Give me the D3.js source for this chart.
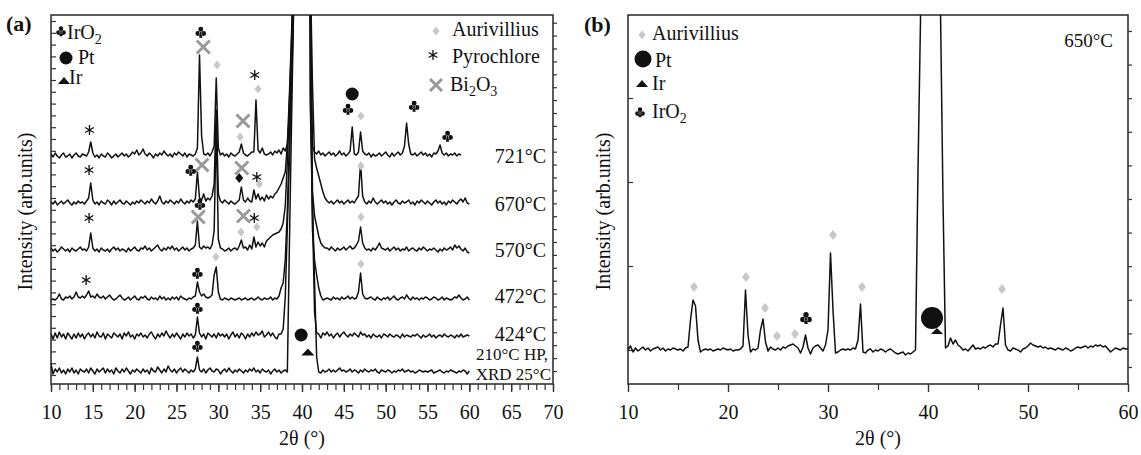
<!DOCTYPE html>
<html><head><meta charset="utf-8">
<script src="https://cdn.jsdelivr.net/npm/d3@7"></script>
<style>
body{margin:0;background:#fff;}
</style></head><body>
<svg id="c" width="1141" height="455"></svg>
<script>
// ---------------- DATA ----------------
// sampling grid of the diffractograms (2θ, degrees)
const twoTheta = d3.range(201).map(i => 10 + i * 0.25);

// panel (a): intensities above each trace's own baseline (arb. units), 999 = off scale
const trace721 = [
 2,-1,3,0, -2,1,3,-1, 0,2,-2,1, 3,0,-1,2, 1,0,4,14, 3,-1,1,-2, 2,0,-1,3, 1,-2,0,2, -1,1,3,0, 2,-1,1,4,
 2,6,1,3, 7,2,0,3, 1,-2,2,0, 3,1,5,2, 0,2,-1,3, 1,4,2,0, 3,-1,2,1, 0,2,8,101, 20,2,1,3, 0,4,10,78,
 8,1,3,0, 2,-1,3,1, 0,2,4,12, 3,1,0,2, 4,4,56,6, 3,8,2,1, 2,4,1,5, 3,6,2,8, 5,12,40,100, 160,999,999,999,
 999,999,999,999, 150,10,4,2, 5,1,3,0, 2,4,1,3, 0,2,5,1, 3,0,2,5, 29,2,1,4, 24,5,2,1, 3,-1,2,0, 1,3,0,2,
 4,1,-1,3, 0,2,4,1, 3,10,33,12, 2,1,3,0, 2,4,1,3, 0,2,-1,3, 2,5,11,3, 1,3,0,2, 1,3,0,2, 1];
const trace670 = [
 2,0,3,-1, 1,3,0,2, 4,1,-1,2, 0,3,1,2, 0,3,6,21, 4,0,2,-1, 3,1,0,4, 2,-1,3,0, 2,4,1,0, 3,1,-1,2,
 0,3,1,4, 2,0,3,1, 5,2,0,3, 8,2,0,3, 1,4,2,0, 3,1,5,2, 0,3,1,4, 2,5,32,6, 4,10,3,6, 4,8,20,94,
 10,3,1,4, 2,0,3,1, 0,2,4,17, 4,2,6,3, 2,14,5,10, 4,7,3,9, 5,8,6,10, 12,16,20,26, 32,60,110,170, 240,999,999,999,
 999,999,999,999, 230,120,45,36, 28,20,12,6, 3,1,3,0, 2,4,1,3, 0,2,4,1, 3,1,5,8, 41,8,2,0, 3,1,6,2, 0,2,4,1,
 3,0,2,-1, 2,4,1,0, 3,1,2,4, 0,2,-1,3, 1,4,2,0, 3,1,-1,2, 4,1,3,0, 2,-1,3,1, 4,2,0,3, 5,2,6,1, 0];
const trace570 = [
 3,0,2,-1, 1,4,2,0, 2,-1,3,1, 0,2,4,1, 2,0,4,18, 3,0,2,-1, 3,1,0,2, -1,2,4,1, 3,0,2,1, -1,3,0,2,
 4,1,0,3, 2,5,1,3, 0,2,4,6, 2,0,3,1, 4,2,5,1, 3,0,2,4, 1,3,0,2, 3,6,30,4, 2,5,3,4, 2,6,20,126,
 12,3,2,0, 1,3,0,2, 3,1,5,11, 3,4,1,6, 2,14,4,9, 5,8,4,10, 12,14,16,17, 18,19,22,28, 45,90,150,210, 280,999,999,999,
 999,999,999,999, 250,60,35,25, 15,8,5,3, 3,1,4,2, 0,3,1,2, 4,1,3,5, 2,3,6,10, 24,8,3,1, 2,0,3,1, 4,8,3,2,
 1,3,0,2, 4,1,3,0, 2,1,4,0, 2,3,1,0, 3,1,4,2, 0,2,1,3, 1,-1,2,0, 3,1,2,4, 1,6,3,5, 2,0,3,-1, -2];
const trace472 = [
 0,1,0,2, 6,1,0,3, 2,4,1,3, 8,3,2,4, 2,5,9,3, 4,2,6,3, 2,4,1,3, 5,2,0,1, 3,5,2,0, 1,3,0,2,
 4,1,0,3, 2,4,1,0, 3,1,2,0, 4,1,3,0, 2,0,3,1, 3,0,4,2, 1,0,2,1, 3,4,18,8, 4,6,3,2, 3,5,25,33,
 8,1,0,2, 1,0,2,1, 0,1,2,0, 1,2,0,1, 2,0,1,3, 1,0,2,1, 1,3,0,2, 1,4,12,17, 40,90,160,230, 300,999,999,999,
 999,999,999,999, 280,70,40,25, 12,4,0,1, 2,1,0,3, 1,2,0,3, 1,2,4,1, 3,1,2,8, 27,6,2,1, 2,3,1,0, 3,1,0,2,
 1,3,0,2, 4,1,0,2, 3,1,5,2, 0,3,1,2, 0,2,1,3, 2,0,1,3, 2,0,1,3, 0,2,1,0, 1,3,2,5, 2,0,1,3, 0];
const trace424 = [
 3,-2,4,-1, 5,0,3,-2, 4,1,-2,3, -1,4,0,3, -2,2,4,0, 3,-1,5,1, 0,4,-2,3, 1,-1,4,2, 0,3,-2,4, 1,5,0,2,
 -2,3,1,4, 0,2,-1,3, 5,1,-2,3, 0,4,1,6, 2,-1,3,0, 4,1,-2,3, 0,4,1,3, -1,2,20,4, 0,3,-2,4, 2,0,3,-1,
 4,1,3,0, 3,-2,2,5, 0,3,-1,4, 2,-2,3,0, 4,1,5,2, 3,6,0,2, 5,1,4,0, -2,3,3,8, 40,110,180,250, 330,999,999,999,
 999,999,999,999, 230,125,25,4, 3,-1,4,2, 5,1,3,-1, 2,4,0,3, 5,2,0,3, 1,4,2,0, 5,2,3,0, 2,-1,3,1, 0,2,-1,3,
 2,0,3,1, 0,2,1,-1, 3,0,2,1, 0,2,1,3, 1,-1,2,0, 1,3,0,2, -1,1,2,0, 3,1,0,2, 1,-1,2,0, 3,0,1,2, 1];
const trace25 = [
 8,-2,3,0, 4,-1,2,-2, 3,0,4,-1, 2,-2,3,1, 0,3,-1,4, 1,-2,3,0, 2,4,-1,3, 0,2,-2,4, 1,-1,3,0, 4,1,-2,2,
 0,3,1,-1, 3,0,2,-2, 4,1,0,5, 2,-1,3,0, 6,2,0,3, -1,2,4,0, 3,1,-1,2, 0,3,15,2, 0,3,-1,2, 4,1,0,3,
 2,-2,1,3, 0,4,1,-1, 2,0,3,1, -1,2,0,3, 1,4,0,2, -1,3,1,0, 2,-2,1,3, 0,2,-1,1, 2,0,130,250, 365,999,999,999,
 999,999,999,999, 280,170,90,15, 0,-1,2,0, 1,3,0,2, 0,2,4,1, 2,0,1,3, 0,2,1,-1, 2,0,3,1, 0,2,1,3, 0,-1,2,1,
 0,2,1,-1, 1,0,2,1, 3,0,1,2, 0,1,-1,0, 2,1,0,1, 0,1,2,-1, 0,1,2,0, -1,1,0,2, 1,0,-1,1, 0,2,1,-2, 1];

const seriesLabelsA = ["721°C", "670°C", "570°C", "472°C", "424°C", "210°C HP,|XRD 25°C"];
const seriesValuesA = [trace721, trace670, trace570, trace472, trace424, trace25];
const stackOffsetA = [228, 180, 133, 84, 47, 12];

// panel (b): 650°C
const trace650 = [
 0,4,-2,2, -1,1,3,0, 2,-1,1,2, 3,0,2,-1, 1,0,2,1, 0,1,-1,2, 3,30,50,44, 10,-2,0,1, 0,1,-1,0, 1,0,2,1,
 0,1,-1,0, 0,1,4,60, 15,-2,1,0, 2,20,31,8, -1,3,1,0, 2,0,3,2, 4,5,6,4, 2,-3,3,15, 2,-4,2,4, 5,2,-1,5,
 20,97,40,-3, -2,0,1,0, 1,0,2,1, 10,46,-2,-3, 0,1,-2,0, -1,1,0,-2, 0,1,-1,-3, -4,-3,-2,-5, -3,-4,-2,0, 180,330,999,999,
 999,999,999,999, 999,340,150,2, 4,12,6,10, 5,3,0,1, -1,2,5,1, 2,1,3,2, 4,5,3,6, 6,25,42,5, 0,-1,2,1, 0,-2,1,2,
 4,7,5,4, 3,4,2,3, 1,2,1,0, 2,1,0,2, 1,-1,0,2, 3,2,3,4, 2,4,3,5, 4,5,3,4, 1,-2,0,2, 1,0,2,1, 1];
const baselineB = 34;

// phase markers [2θ, intensity]
const aurivilliusA = [[29.85,319],[34.75,295],[32.6,247],[47.05,268],[47.05,218],[34.9,200],[32.7,152],[34.6,157],[29.7,127],[47.05,167],[47.05,120]];
const unknownBlackA = [[32.5,206]];
const pyrochloreA = [[14.6,254],[34.35,309],[14.55,214],[34.6,207],[14.55,166],[34.3,166],[14.2,104]];
const bi2o3A = [[28.2,337],[32.95,263],[28.05,219],[32.8,216],[27.6,167],[33.0,168]];
const iro2A = [[27.9,351],[26.7,213],[27.8,179],[27.5,110],[27.5,75],[27.5,37],[45.5,274],[53.4,277],[57.4,247]];
const ptA = [[46.0,290],[39.9,49]];
const irA = [[40.7,32]];

const aurivilliusB = [[16.6,97],[21.8,107],[23.7,76],[24.9,48],[26.7,50],[30.5,149],[33.4,97],[47.4,95]];
const iro2B = [[27.8,65]];
const ptB = [[40.4,66]];
const irB = [[40.9,53]];

const xTicksA = [10,15,20,25,30,35,40,45,50,55,60,65,70];
const xMinorA = d3.range(10, 71, 1);
const xTicksB = [10,20,30,40,50,60];
const xMinorB = [15,25,35,45,55];

// ---------------- DRAWING ----------------
const FONT = '"Liberation Serif", "Times New Roman", Times, "DejaVu Serif", serif';
const svg = d3.select("#c").attr("font-family", FONT).style("font-family", FONT);
const ink = "#111";
const frame = "#333";
const grayMark = "#c8c8c8";
const grayX = "#999";
const labelDy = [7, 7, 6, 3, 4];

function txt(g, x, y, s, size, anchor) {
  return g.append("text").attr("x", x).attr("y", y).attr("font-size", size)
    .attr("font-family", FONT).attr("text-anchor", anchor || "start").attr("fill", ink).text(s);
}

function makeAxes(g, x, y, majors, minors, w, h, x0, y0) {
  g.append("g").attr("transform", `translate(0,${y0 + h})`)
    .call(d3.axisBottom(x).tickValues(minors).tickSize(6).tickFormat(""))
    .call(a => a.select(".domain").remove())
    .call(a => a.selectAll("line").attr("stroke", frame).attr("stroke-width", 1.2));
  g.append("g").attr("transform", `translate(0,${y0 + h})`)
    .call(d3.axisBottom(x).tickValues(majors).tickSize(8).tickPadding(13).tickFormat(d3.format("d")))
    .attr("font-family", FONT)
    .call(a => a.select(".domain").remove())
    .call(a => a.selectAll("line").attr("stroke", frame).attr("stroke-width", 1.4))
    .call(a => a.selectAll("text").attr("font-size", 20).attr("fill", ink).attr("font-family", FONT));
  g.append("rect").attr("x", x0).attr("y", y0).attr("width", w).attr("height", h)
    .attr("fill", "none").attr("stroke", frame).attr("stroke-width", 1.6);
}

function starPath(cx, cy, r) {
  return [0, 60, 120].map(a => {
    const t = (a + 90) * Math.PI / 180;
    return `M${(cx - r*Math.cos(t)).toFixed(2)},${(cy - r*Math.sin(t)).toFixed(2)}L${(cx + r*Math.cos(t)).toFixed(2)},${(cy + r*Math.sin(t)).toFixed(2)}`;
  }).join("");
}
// club (♣) drawn as a vector shape of half-width s
function clubPath(s) {
  const r = s * 0.45;
  const c = (cx, cy) => `M${cx - r},${cy}a${r},${r} 0 1,0 ${2*r},0a${r},${r} 0 1,0 ${-2*r},0Z`;
  return c(0, -s * 0.5) + c(-s * 0.52, s * 0.28) + c(s * 0.52, s * 0.28) +
    `M${-s*0.12},0L${s*0.12},0L${s*0.3},${s*1.05}L${-s*0.3},${s*1.05}Z` +
    `M${-s*0.25},${-s*0.1}L${s*0.25},${-s*0.1}L${s*0.25},${s*0.4}L${-s*0.25},${s*0.4}Z`;
}
function drawClubShape(g, cx, cy, s) {
  g.append("path").attr("d", clubPath(s)).attr("transform", `translate(${cx},${cy - s * 0.2})`).attr("fill", ink);
}
function drawDiamond(g, pts, x, y, color, hw, hh) {
  g.selectAll(null).data(pts).join("path")
    .attr("d", `M0,${-hh}L${hw},0L0,${hh}L${-hw},0Z`)
    .attr("transform", d => `translate(${x(d[0])},${y(d[1])})`)
    .attr("fill", color);
}
function drawStar(g, pts, x, y) {
  g.selectAll(null).data(pts).join("path")
    .attr("d", starPath(0, 0, 5)).attr("transform", d => `translate(${x(d[0])},${y(d[1])})`)
    .attr("stroke", ink).attr("stroke-width", 1.3).attr("fill", "none");
}
function drawX(g, pts, x, y, s) {
  g.selectAll(null).data(pts).join("path")
    .attr("d", `M${-s},${-s}L${s},${s}M${-s},${s}L${s},${-s}`)
    .attr("transform", d => `translate(${x(d[0])},${y(d[1])})`)
    .attr("stroke", grayX).attr("stroke-width", 3).attr("fill", "none");
}
function drawClub(g, pts, x, y, s) {
  g.selectAll(null).data(pts).join("path")
    .attr("d", clubPath(s))
    .attr("transform", d => `translate(${x(d[0])},${y(d[1]) - s * 0.2})`)
    .attr("fill", ink);
}
function drawCircle(g, pts, x, y, r) {
  g.selectAll(null).data(pts).join("circle")
    .attr("cx", d => x(d[0])).attr("cy", d => y(d[1])).attr("r", r).attr("fill", ink);
}
function drawTri(g, pts, x, y, hw, h) {
  g.selectAll(null).data(pts).join("path")
    .attr("d", `M${-hw},${h/2}L${hw},${h/2}L0,${-h/2}Z`)
    .attr("transform", d => `translate(${x(d[0])},${y(d[1])})`)
    .attr("fill", ink);
}
function subText(g, x, y, parts) {
  const t = g.append("text").attr("x", x).attr("y", y).attr("font-size", 20)
    .attr("font-family", FONT).attr("fill", ink);
  let sub = false;
  parts.forEach(p => {
    const isSub = /^\d$/.test(p);
    const ts = t.append("tspan").text(p);
    if (isSub && !sub) { ts.attr("font-size", 14).attr("dy", 5); sub = true; }
    else if (!isSub && sub) { ts.attr("dy", -5); sub = false; }
    else if (isSub) ts.attr("font-size", 14);
  });
  return t;
}

// ---------- Panel (a) ----------
{
  const x0 = 51, y0 = 15, w = 502, h = 369;
  const x = d3.scaleLinear().domain([10, 70]).range([x0, x0 + w]);
  const y = d3.scaleLinear().domain([0, 369]).range([y0 + h, y0]);
  const g = svg.append("g");
  g.append("clipPath").attr("id", "clipA").append("rect")
    .attr("x", x0).attr("y", y0).attr("width", w).attr("height", h);

  g.append("g").attr("transform", `translate(${x0},0)`)
    .call(d3.axisLeft(y).tickValues(d3.range(9, 369, 11.8)).tickSize(-5).tickFormat(""))
    .call(a => a.select(".domain").remove())
    .call(a => a.selectAll("line").attr("stroke", frame).attr("stroke-width", 1.2));
  g.append("g").attr("transform", `translate(${x0 + w},0)`)
    .call(d3.axisRight(y).tickValues(d3.range(13, 369, 12.9)).tickSize(4).tickFormat(""))
    .call(a => a.select(".domain").remove())
    .call(a => a.selectAll("line").attr("stroke", frame).attr("stroke-width", 1.2));
  makeAxes(g, x, y, xTicksA, xMinorA, w, h, x0, y0);

  const line = d3.line().x(d => x(d[0])).y(d => y(d[1]));
  const traces = g.append("g").attr("clip-path", "url(#clipA)");
  seriesValuesA.forEach((vals, i) => {
    const pts = vals.map((v, j) => [twoTheta[j], v + stackOffsetA[i]]);
    traces.append("path").attr("d", line(pts)).attr("fill", "none")
      .attr("stroke", ink).attr("stroke-width", 1.5).attr("stroke-linejoin", "round");
  });

  seriesLabelsA.forEach((lab, i) => {
    const parts = lab.split("|");
    if (parts.length === 1) {
      txt(g, 546, y(stackOffsetA[i]) + labelDy[i], lab, 20, "end");
    } else {
      txt(g, 548, y(stackOffsetA[i]) - 12, parts[0], 17, "end");
      txt(g, 551, y(stackOffsetA[i]) + 8, parts[1], 17, "end");
    }
  });

  const m = g.append("g");
  drawDiamond(m, aurivilliusA, x, y, grayMark, 3.6, 4.6);
  drawDiamond(m, unknownBlackA, x, y, ink, 4, 5);
  drawStar(m, pyrochloreA, x, y);
  drawX(m, bi2o3A, x, y, 6.5);
  drawClub(m, iro2A, x, y, 5.5);
  drawCircle(m, ptA, x, y, 6.5);
  drawTri(m, irA, x, y, 6.5, 7);

  // legend
  drawClubShape(g, 61, 32, 5);
  subText(g, 67, 39, ["IrO", "2"]);
  g.append("circle").attr("cx", 66).attr("cy", 58).attr("r", 6.5).attr("fill", ink);
  txt(g, 78, 64, "Pt", 20);
  g.append("path").attr("d", "M58,84L70,84L64,77Z").attr("fill", ink);
  txt(g, 69, 84, "Ir", 20);

  g.append("path").attr("d", "M436,26.5L439.5,31L436,35.5L432.5,31Z").attr("fill", grayMark);
  txt(g, 452, 36, "Aurivillius", 20);
  g.append("path").attr("d", starPath(433, 55, 5)).attr("stroke", ink).attr("stroke-width", 1.3);
  txt(g, 452, 63, "Pyrochlore", 20);
  g.append("path").attr("d", "M430,79L442,91M430,91L442,79").attr("stroke", grayX).attr("stroke-width", 3);
  subText(g, 450, 91, ["Bi", "2", "O", "3"]);

  g.append("text").attr("x", 6).attr("y", 31).attr("font-size", 22).attr("font-weight", "bold")
    .attr("font-family", FONT).attr("fill", ink).text("(a)");
  g.append("text").attr("transform", `translate(32,${y0 + h / 2 + 12}) rotate(-90)`)
    .attr("text-anchor", "middle").attr("font-size", 20).attr("font-family", FONT).attr("fill", ink)
    .text("Intensity (arb.units)");
  txt(g, x0 + w / 2, 445, "2θ (°)", 20, "middle");
}

// ---------- Panel (b) ----------
{
  const x0 = 628, y0 = 15, w = 500, h = 369;
  const x = d3.scaleLinear().domain([10, 60]).range([x0, x0 + w]);
  const y = d3.scaleLinear().domain([0, 369]).range([y0 + h, y0]);
  const g = svg.append("g");
  g.append("clipPath").attr("id", "clipB").append("rect")
    .attr("x", x0).attr("y", y0).attr("width", w).attr("height", h);

  g.append("g").attr("transform", `translate(${x0},0)`)
    .call(d3.axisLeft(y).tickValues([34, 118, 202, 286]).tickSize(-5).tickFormat(""))
    .call(a => a.select(".domain").remove())
    .call(a => a.selectAll("line").attr("stroke", frame).attr("stroke-width", 1.2));
  g.append("g").attr("transform", `translate(${x0 + w},0)`)
    .call(d3.axisRight(y).tickValues(d3.range(17, 369, 33.6)).tickSize(4).tickFormat(""))
    .call(a => a.select(".domain").remove())
    .call(a => a.selectAll("line").attr("stroke", frame).attr("stroke-width", 1.2));
  makeAxes(g, x, y, xTicksB, xMinorB, w, h, x0, y0);

  const line = d3.line().x(d => x(d[0])).y(d => y(d[1]));
  const pts = trace650.map((v, j) => [twoTheta[j], v + baselineB]);
  g.append("g").attr("clip-path", "url(#clipB)").append("path").attr("d", line(pts))
    .attr("fill", "none").attr("stroke", ink).attr("stroke-width", 1.5).attr("stroke-linejoin", "round");

  const m = g.append("g");
  drawDiamond(m, aurivilliusB, x, y, grayMark, 4, 5);
  drawClub(m, iro2B, x, y, 6);
  drawTri(m, irB, x, y, 6, 6);
  drawCircle(m, ptB, x, y, 11);

  g.append("path").attr("d", "M642,30.5L645.5,35L642,39.5L638.5,35Z").attr("fill", grayMark);
  txt(g, 652, 40, "Aurivillius", 20);
  g.append("circle").attr("cx", 643).attr("cy", 59).attr("r", 8.5).attr("fill", ink);
  txt(g, 655, 67, "Pt", 20);
  g.append("path").attr("d", "M636,87L648,87L642,80Z").attr("fill", ink);
  txt(g, 652, 90, "Ir", 20);
  drawClubShape(g, 640, 113, 5);
  subText(g, 652, 118, ["IrO", "2"]);

  txt(g, 1113, 47, "650°C", 19, "end");

  g.append("text").attr("x", 584).attr("y", 32).attr("font-size", 22).attr("font-weight", "bold")
    .attr("font-family", FONT).attr("fill", ink).text("(b)");
  g.append("text").attr("transform", `translate(610,${y0 + h / 2 + 12}) rotate(-90)`)
    .attr("text-anchor", "middle").attr("font-size", 20).attr("font-family", FONT).attr("fill", ink)
    .text("Intensity (arb.units)");
  txt(g, x0 + w / 2, 445, "2θ (°)", 20, "middle");
}
</script>
</body></html>
